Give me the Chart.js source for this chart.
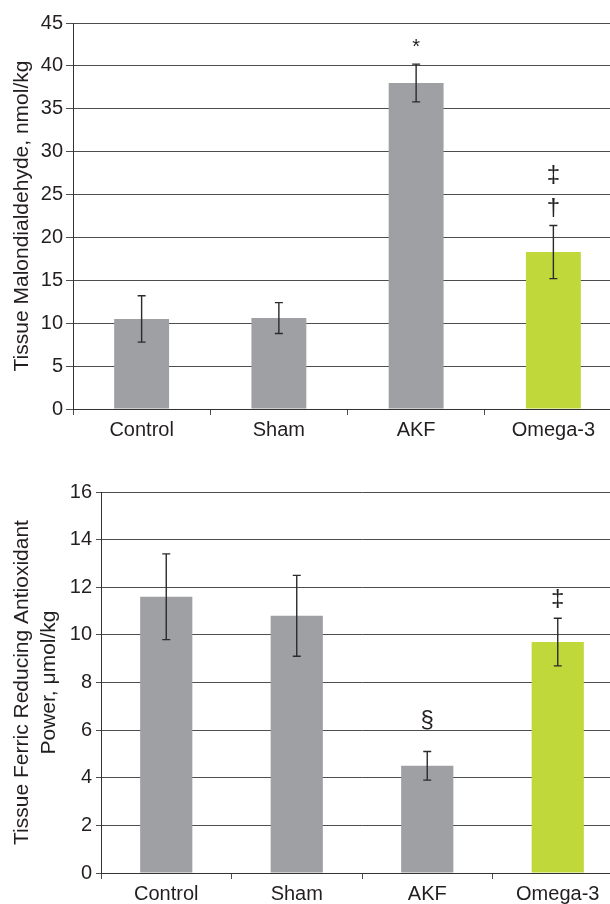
<!DOCTYPE html>
<html>
<head>
<meta charset="utf-8">
<script src="https://cdn.jsdelivr.net/npm/chart.js@4.4.1/dist/chart.umd.min.js"></script>
<style>
  html, body { margin: 0; padding: 0; background: #fff; overflow: hidden; width: 610px; height: 904px; }
  canvas { position: absolute; left: 0; }
  #mdaChart { top: 0; }
  #frapChart { top: 452px; }
</style>
</head>
<body>
<canvas id="mdaChart" width="622" height="452"></canvas>
<canvas id="frapChart" width="623" height="452"></canvas>
<script>
// data
const categories = ['Control', 'Sham', 'AKF', 'Omega-3'];
const barColors = ['#9fa0a4', '#9fa0a4', '#9fa0a4', '#c1d83b'];

const mdaValues = [10.5, 10.6, 38.0, 18.3];
const mdaErrors = [2.7, 1.8, 2.2, 3.1];
const mdaTicks = [0, 5, 10, 15, 20, 25, 30, 35, 40, 45];
const mdaMarks = [[], [], ['*'], ['†', '‡']];
const mdaMarkLevels = [[], [], [42.2], [23.35, 27.2]];

const frapValues = [11.6, 10.8, 4.5, 9.7];
const frapErrors = [1.8, 1.7, 0.6, 1.0];
const frapTicks = [0, 2, 4, 6, 8, 10, 12, 14, 16];
const frapMarks = [[], [], ['§'], ['‡']];
const frapMarkLevels = [[], [], [6.43], [11.5]];

const FONT = "'Liberation Sans', Arial, sans-serif";
const TEXT = '#231f20';
const GRID = '#4d4d4d';

// error bars + significance marks
function errorBarPlugin(errors, marks, levels) {
  return {
    id: 'errorBars',
    afterDatasetsDraw(chart) {
      const ctx = chart.ctx;
      const y = chart.scales.y;
      const meta = chart.getDatasetMeta(0);
      const values = chart.data.datasets[0].data;
      ctx.save();
      ctx.strokeStyle = '#2b2b2b';
      ctx.lineWidth = 1.4;
      meta.data.forEach(function(bar, i) {
        const x = bar.x;
        const top = y.getPixelForValue(values[i] + errors[i]);
        const bot = y.getPixelForValue(values[i] - errors[i]);
        ctx.beginPath();
        ctx.moveTo(x, top); ctx.lineTo(x, bot);
        ctx.moveTo(x - 4, top); ctx.lineTo(x + 4, top);
        ctx.moveTo(x - 4, bot); ctx.lineTo(x + 4, bot);
        ctx.stroke();

        ctx.fillStyle = TEXT;
        ctx.textAlign = 'center';
        ctx.textBaseline = 'middle';
        marks[i].forEach(function(m, j) {
          ctx.font = (m === '*' ? 20 : 24) + 'px ' + FONT;
          ctx.fillText(m, x, y.getPixelForValue(levels[i][j]));
        });
      });
      ctx.restore();
    }
  };
}

function makeChart(id, values, ticks, title, yWidth, xHeight, padTop, tickLen, tickPad, titlePad, errors, marks, levels) {
  const canvas = document.getElementById(id);
  return new Chart(canvas.getContext('2d'), {
    type: 'bar',
    data: {
      labels: categories,
      datasets: [{
        data: values,
        backgroundColor: barColors,
        borderWidth: 0,
        categoryPercentage: 1.0,
        barPercentage: 0.4
      }]
    },
    options: {
      responsive: false,
      animation: false,
      devicePixelRatio: 1,
      layout: { padding: { top: padTop, left: 0, right: 0, bottom: 0 } },
      plugins: { legend: { display: false }, tooltip: { enabled: false } },
      scales: {
        x: {
          offset: true,
          grid: { display: true, offset: true, drawOnChartArea: false, drawTicks: true, tickLength: 6, color: GRID },
          border: { display: true, color: '#333333', width: 1 },
          ticks: { color: TEXT, font: { family: FONT, size: 20 }, padding: 3, maxRotation: 0 },
          afterFit: function(scale) { scale.height = xHeight; }
        },
        y: {
          min: ticks[0],
          max: ticks[ticks.length - 1],
          afterBuildTicks: function(scale) {
            scale.ticks = ticks.map(function(v) { return { value: v }; });
          },
          grid: { color: GRID, lineWidth: 1, tickLength: tickLen },
          border: { display: true, color: '#333333', width: 1 },
          ticks: { color: TEXT, font: { family: FONT, size: 20 }, padding: tickPad },
          title: {
            display: true,
            text: title,
            color: TEXT,
            font: { family: FONT, size: 21, lineHeight: 1.29 },
            padding: { top: titlePad, bottom: 0 }
          },
          afterFit: function(scale) { scale.width = yWidth; }
        }
      }
    },
    plugins: [errorBarPlugin(errors, marks, levels)]
  });
}

makeChart('mdaChart', mdaValues, mdaTicks, 'Tissue Malondialdehyde, nmol/kg',
  73, 43, 23, 7, 3, 9, mdaErrors, mdaMarks, mdaMarkLevels);

makeChart('frapChart', frapValues, frapTicks, ['Tissue Ferric Reducing Antioxidant', 'Power, μmol/kg'],
  101, 31, 40, 5, 4, 9, frapErrors, frapMarks, frapMarkLevels);
</script>
</body>
</html>
